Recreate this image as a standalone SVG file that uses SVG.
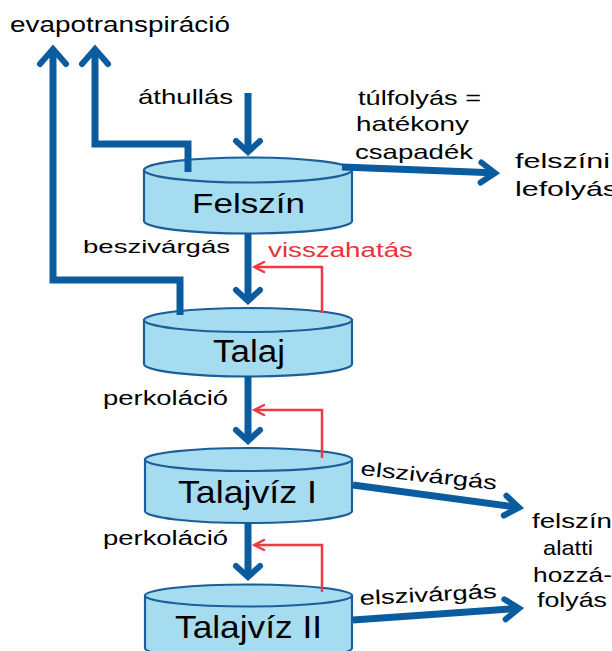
<svg xmlns="http://www.w3.org/2000/svg" width="612" height="651" viewBox="0 0 612 651">
<style>
text{font-family:"Liberation Sans",Arial,sans-serif;fill:#000;}
.lbl{font-size:21px;}
.cl{font-size:31px;}
.red{fill:#e8333b;}
.cyl{fill:#a6dcf0;stroke:#1b5e98;stroke-width:2.2;}
.flow{fill:none;stroke:#0b5c9e;stroke-width:7;}
.head{fill:none;stroke:#0b5c9e;stroke-width:6;stroke-linecap:round;stroke-linejoin:miter;}
.fb{fill:none;stroke:#ee3a42;stroke-width:2.5;}
.fbh{fill:none;stroke:#ee3a42;stroke-width:2.5;stroke-linecap:round;}
</style>
<rect width="612" height="651" fill="#fff"/>
<g id="felszin">
<path class="cyl" d="M144,170 V221 A104,12.5 0 0 0 352,221 V170 Z"/>
<ellipse class="cyl" cx="248" cy="170" rx="104" ry="12.5"/>
<text x="192" y="213" font-size="28" textLength="113" lengthAdjust="spacingAndGlyphs">Felszín</text>
</g>
<g id="talaj">
<path class="cyl" d="M144,320 V364 A104,12.5 0 0 0 352,364 V320 Z"/>
<ellipse class="cyl" cx="248" cy="320" rx="104" ry="12"/>
<text x="213" y="362" class="cl" textLength="72" lengthAdjust="spacingAndGlyphs">Talaj</text>
</g>
<g id="talajviz1">
<path class="cyl" d="M145,459.5 V511 A103.5,12 0 0 0 352,511 V459.5 Z"/>
<ellipse class="cyl" cx="248.5" cy="459.5" rx="103.5" ry="11.5"/>
<text x="178" y="503" font-size="32" textLength="139" lengthAdjust="spacingAndGlyphs">Talajvíz I</text>
</g>
<g id="talajviz2">
<path class="cyl" d="M145,595.5 V648 A103.5,12 0 0 0 352,648 V595.5 Z"/>
<ellipse class="cyl" cx="248.5" cy="595.5" rx="103.5" ry="11"/>
<text x="175" y="638" font-size="32" textLength="147" lengthAdjust="spacingAndGlyphs">Talajvíz II</text>
</g>
<g id="connectors">
<path class="flow" d="M53,52 V280 H180 V315"/>
<path class="head" d="M40,64 L53,49 L66,64"/>
<path class="flow" d="M95,52 V144 H188 V172"/>
<path class="head" d="M82,64 L95,49 L108,64"/>
<path class="flow" d="M248,93 V149"/>
<path class="head" d="M236,141 L248,152 L260,141"/>
<path class="flow" d="M342,167 L492,172.7"/>
<path class="head" d="M481.4,162.5 L495,173 L480.6,182.5"/>
<path class="flow" d="M248,233 V298"/>
<path class="head" d="M236,290 L248,301 L260,290"/>
<path class="flow" d="M248,376 V438"/>
<path class="head" d="M236,430 L248,441 L260,430"/>
<path class="flow" d="M248,523 V574"/>
<path class="head" d="M236,566 L248,577 L260,566"/>
<path class="flow" d="M353,485 L516,507"/>
<path class="head" d="M506.4,495.7 L519,507.5 L503.8,515.5"/>
<path class="flow" d="M353,620 L516,608.5"/>
<path class="head" d="M504.3,599.3 L519,608.3 L505.7,619.3"/>
<path class="fb" d="M322,313 V267 H255"/>
<path class="fbh" d="M264,262 L254.5,267 L264,272"/>
<path class="fb" d="M322,458 V410 H255"/>
<path class="fbh" d="M264,405 L254.5,410 L264,415"/>
<path class="fb" d="M322,592 V545 H255"/>
<path class="fbh" d="M264,540 L254.5,545 L264,550"/>
</g>
<g id="labels">
<text x="10" y="32" font-size="22" textLength="220" lengthAdjust="spacingAndGlyphs">evapotranspiráció</text>
<text x="138" y="104" class="lbl" textLength="95" lengthAdjust="spacingAndGlyphs">áthullás</text>
<text x="358" y="105" class="lbl" textLength="123" lengthAdjust="spacingAndGlyphs">túlfolyás =</text>
<text x="356" y="131" class="lbl" textLength="113" lengthAdjust="spacingAndGlyphs">hatékony</text>
<text x="355" y="159" class="lbl" textLength="118" lengthAdjust="spacingAndGlyphs">csapadék</text>
<text x="515" y="168" class="lbl" textLength="95" lengthAdjust="spacingAndGlyphs">felszíni</text>
<text x="515" y="196" class="lbl" textLength="103" lengthAdjust="spacingAndGlyphs">lefolyás</text>
<text x="83" y="253" font-size="19" textLength="147" lengthAdjust="spacingAndGlyphs">beszivárgás</text>
<text x="268" y="257" font-size="20" class="red" textLength="145" lengthAdjust="spacingAndGlyphs">visszahatás</text>
<text x="103" y="405" font-size="20" textLength="125" lengthAdjust="spacingAndGlyphs">perkoláció</text>
<text x="103" y="545" font-size="20" textLength="125" lengthAdjust="spacingAndGlyphs">perkoláció</text>
<text x="360" y="475" font-size="20" transform="rotate(6.2 360 475)" textLength="137" lengthAdjust="spacingAndGlyphs">elszivárgás</text>
<text x="360" y="605" font-size="20" transform="rotate(-3 360 605)" textLength="137" lengthAdjust="spacingAndGlyphs">elszivárgás</text>
<text x="532" y="528" class="lbl" textLength="80" lengthAdjust="spacingAndGlyphs">felszín</text>
<text x="543" y="555" class="lbl" textLength="50" lengthAdjust="spacingAndGlyphs">alatti</text>
<text x="533" y="582" class="lbl" textLength="79" lengthAdjust="spacingAndGlyphs">hozzá-</text>
<text x="537" y="607" class="lbl" textLength="70" lengthAdjust="spacingAndGlyphs">folyás</text>
</g>
</svg>
